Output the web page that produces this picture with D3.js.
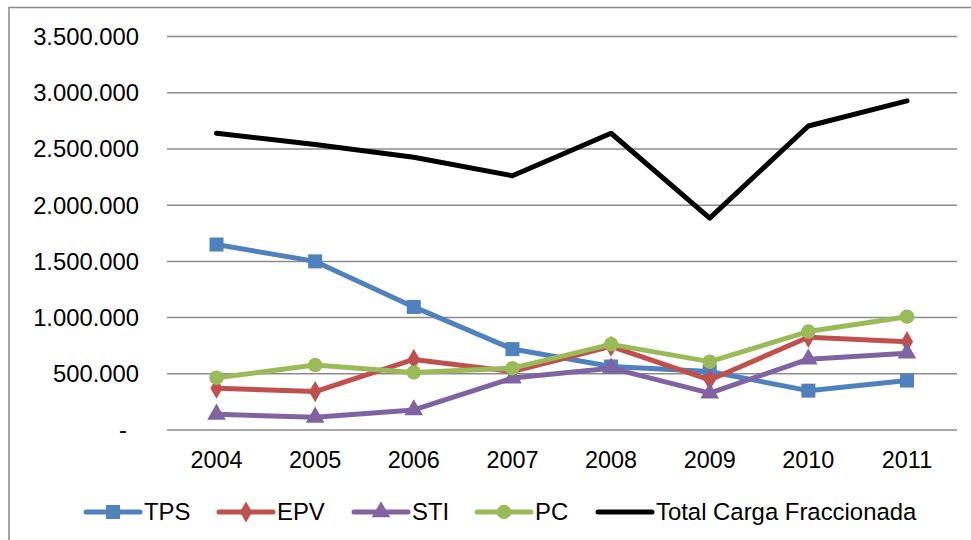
<!DOCTYPE html>
<html><head><meta charset="utf-8">
<script src="https://cdn.jsdelivr.net/npm/d3@7"></script>
<style>body{margin:0;background:#fff;}text{font-family:"Liberation Sans",Arial,sans-serif;fill:#000;}</style>
</head><body><svg id="c" width="971" height="540"></svg>
<script>
const years = ["2004","2005","2006","2007","2008","2009","2010","2011"];
const tps   = [1650000,1500000,1095000,720000,565000,520000,350000,440000];
const epv   = [372000,342000,628000,520000,745000,445000,825000,786000];
const sti   = [140000,113000,178000,462000,550000,328000,630000,683000];
const pc    = [465000,578000,512000,550000,762000,608000,876000,1008000];
const total = [2640000,2540000,2426000,2262000,2640000,1885000,2705000,2928000];
const yTicks = [0,500000,1000000,1500000,2000000,2500000,3000000,3500000];
const seriesNames = ["TPS","EPV","STI","PC","Total Carga Fraccionada"];

const series = [
  {name:seriesNames[0], values:tps, color:"#4F81BD", marker:"square"},
  {name:seriesNames[1], values:epv, color:"#C0504D", marker:"diamond"},
  {name:seriesNames[2], values:sti, color:"#8064A2", marker:"triangle"},
  {name:seriesNames[3], values:pc, color:"#9BBB59", marker:"circle"},
  {name:seriesNames[4], values:total, color:"#000000", marker:null}
];

const svg = d3.select("#c");
const L = 167, R = 957, T = 36.6, B = 430;
const x = d3.scalePoint().domain(years).range([216.5, 907]);
const y = d3.scaleLinear().domain([0,3500000]).range([B, T]);

// border
svg.append("rect").attr("x",9).attr("y",7.5).attr("width",1000).attr("height",600)
  .attr("fill","none").attr("stroke","#8c8c8c").attr("stroke-width",1.5);

// gridlines
svg.append("g").selectAll("line").data(yTicks).join("line")
  .attr("x1",L).attr("x2",R).attr("y1",d=>y(d)).attr("y2",d=>y(d))
  .attr("stroke","#8c8c8c").attr("stroke-width",1.5);

const fmt = d => d===0 ? "-" : d3.format(",")(d).replace(/,/g,".");
svg.append("g").selectAll("text").data(yTicks).join("text")
  .attr("x", d=> d===0 ? 127 : 139).attr("y",d=>y(d)).attr("dy","0.35em")
  .attr("text-anchor","end").attr("font-size",23.8).text(fmt);

svg.append("g").selectAll("text").data(years).join("text")
  .attr("x",d=>x(d)).attr("y",468).attr("text-anchor","middle")
  .attr("font-size",23.4).text(d=>d);

const sym = {
  square: d3.symbol().type(d3.symbolSquare).size(196),
  diamond: d3.symbol().type(d3.symbolDiamond).size(130),
  triangle: d3.symbol().type(d3.symbolTriangle).size(150),
  circle: d3.symbol().type(d3.symbolCircle).size(165)
};

const line = d3.line().x((d,i)=>x(years[i])).y(d=>y(d));
series.forEach(s=>{
  const g = svg.append("g");
  g.append("path").attr("d",line(s.values)).attr("fill","none")
    .attr("stroke",s.color).attr("stroke-width",5).attr("stroke-linejoin","round").attr("stroke-linecap","round");
  if(s.marker){
    g.selectAll("path.m").data(s.values).join("path").attr("class","m")
      .attr("transform",(d,i)=>`translate(${x(years[i])},${y(d)})`)
      .attr("d",sym[s.marker]()).attr("fill",s.color);
  }
});

// legend
const legX = [86,219,354,477,598];
const lg = svg.append("g");
series.forEach((s,i)=>{
  const x0 = legX[i], yy = 512;
  lg.append("line").attr("x1",x0).attr("x2",x0+54).attr("y1",yy).attr("y2",yy)
    .attr("stroke",s.color).attr("stroke-width",5).attr("stroke-linecap","round");
  if(s.marker){
    lg.append("path").attr("transform",`translate(${x0+27},${yy})`).attr("d",sym[s.marker]()).attr("fill",s.color);
  }
  lg.append("text").attr("x",x0+58).attr("y",519.5).attr("font-size",23.9).text(s.name);
});
</script></body></html>
